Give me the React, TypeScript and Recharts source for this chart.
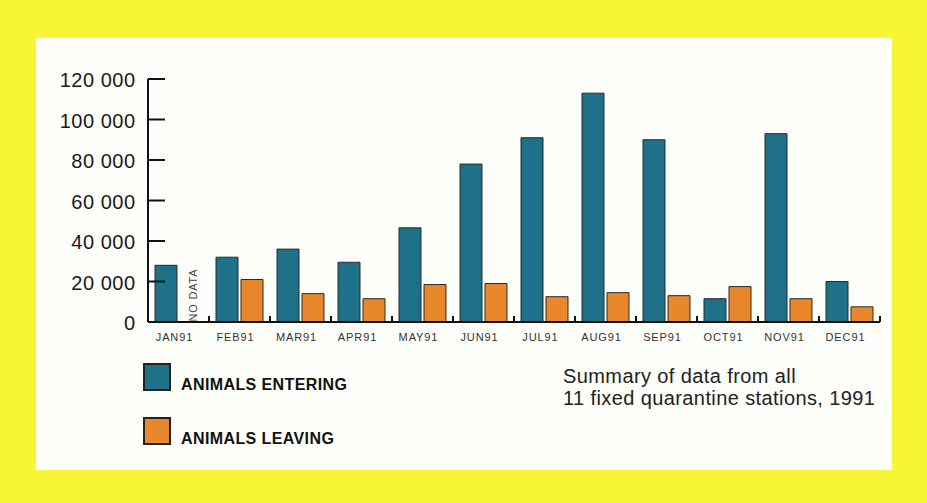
import { BarChart, Bar, XAxis, YAxis } from 'recharts';

// Monthly totals (animals, 1991)
const months = ['JAN91', 'FEB91', 'MAR91', 'APR91', 'MAY91', 'JUN91', 'JUL91', 'AUG91', 'SEP91', 'OCT91', 'NOV91', 'DEC91'];
const entering = [28000, 32000, 36000, 29500, 46500, 78000, 91000, 113000, 90000, 11500, 93000, 20000];
const leaving = [null, 21000, 14000, 11500, 18500, 19000, 12500, 14500, 13000, 17500, 11500, 7500];
const yTicks = [0, 20000, 40000, 60000, 80000, 100000, 120000];

const data = months.map((month, i) => ({ month, entering: entering[i], leaving: leaving[i] }));

const TEAL = '#1f7189';
const ORANGE = '#e8872b';
const YELLOW = '#f7f536';
const FONT = '"Liberation Sans", Arial, Helvetica, sans-serif';

const CHART_W = 927;
const PLOT_LEFT = 148;
const PLOT_RIGHT = 880;
const BAND = (PLOT_RIGHT - PLOT_LEFT) / months.length;

const fmt = (v: number) => v.toLocaleString('en-US').replace(/,/g, ' ');

const YTick = ({ x, y, payload }: any) => (
  <g>
    <line x1={x} x2={x + 17} y1={y} y2={y} stroke="#111" strokeWidth={2} />
    <text
      x={x - 12.5}
      y={y + 8}
      textAnchor="end"
      fontFamily={FONT}
      fontSize={20}
      letterSpacing={0.5}
      fill="#1a1a1a"
    >
      {fmt(payload.value)}
    </text>
  </g>
);

const XTick = ({ x, y, payload, index }: any) => (
  <g>
    {/* small tick marks sit on the category boundaries */}
    <line x1={x + BAND / 2} x2={x + BAND / 2} y1={y} y2={y - 6} stroke="#111" strokeWidth={2} />
    <text
      x={x - 4}
      y={y + 19}
      textAnchor="middle"
      fontFamily={FONT}
      fontSize={11}
      letterSpacing={0.9}
      fill="#333"
    >
      {payload.value}
    </text>
    {leaving[index] == null && (
      <text
        transform={`translate(${x + 14}, ${y - 27}) rotate(-90)`}
        textAnchor="middle"
        dominantBaseline="central"
        fontFamily={FONT}
        fontSize={11}
        letterSpacing={0.8}
        fill="#444"
      >
        NO DATA
      </text>
    )}
  </g>
);

const LegendItem = ({ color, label, top }: { color: string; label: string; top: number }) => (
  <div style={{ position: 'absolute', left: 143, top, height: 28 }}>
    <div
      style={{
        position: 'absolute',
        left: 0,
        top: 0,
        width: 28,
        height: 28,
        boxSizing: 'border-box',
        border: '2px solid #222',
        background: color,
      }}
    />
    <div
      style={{
        position: 'absolute',
        left: 38,
        top: 14,
        whiteSpace: 'nowrap',
        fontFamily: FONT,
        fontWeight: 700,
        fontSize: 16,
        lineHeight: '16px',
        letterSpacing: 0.4,
        color: '#111',
      }}
    >
      {label}
    </div>
  </div>
);

export default function App() {
  return (
    <div
      style={{
        position: 'absolute',
        left: 0,
        top: 0,
        width: CHART_W,
        height: 503,
        background: YELLOW,
        overflow: 'hidden',
      }}
    >
      <div
        style={{
          position: 'absolute',
          left: 36,
          top: 38,
          width: 856,
          height: 432,
          background: '#fefefb',
        }}
      />
      <div style={{ position: 'absolute', left: 0, top: 0 }}>
        <BarChart
          width={CHART_W}
          height={503}
          data={data}
          margin={{ top: 79, right: CHART_W - PLOT_RIGHT, bottom: 151, left: 0 }}
          barSize={22}
          barGap={3}
        >
          <XAxis
            dataKey="month"
            height={30}
            axisLine={{ stroke: '#111', strokeWidth: 2 }}
            tickLine={false}
            tickSize={0}
            tickMargin={0}
            tick={<XTick />}
            interval={0}
          />
          <YAxis
            width={PLOT_LEFT}
            domain={[0, 120000]}
            ticks={yTicks}
            axisLine={{ stroke: '#111', strokeWidth: 2 }}
            tickLine={false}
            tickSize={0}
            tickMargin={0}
            tick={<YTick />}
            interval={0}
          />
          <Bar dataKey="entering" fill={TEAL} stroke="#2a2a2a" strokeWidth={1} isAnimationActive={false} />
          <Bar dataKey="leaving" fill={ORANGE} stroke="#2a2a2a" strokeWidth={1} isAnimationActive={false} />
        </BarChart>
      </div>

      <LegendItem color={TEAL} label="ANIMALS ENTERING" top={363} />
      <LegendItem color={ORANGE} label="ANIMALS LEAVING" top={417} />

      <div
        style={{
          position: 'absolute',
          left: 563,
          top: 365,
          fontFamily: FONT,
          fontSize: 20,
          lineHeight: '22px',
          letterSpacing: 0.4,
          color: '#222',
          whiteSpace: 'nowrap',
        }}
      >
        Summary of data from all
        <br />
        11 fixed quarantine stations, 1991
      </div>
    </div>
  );
}
